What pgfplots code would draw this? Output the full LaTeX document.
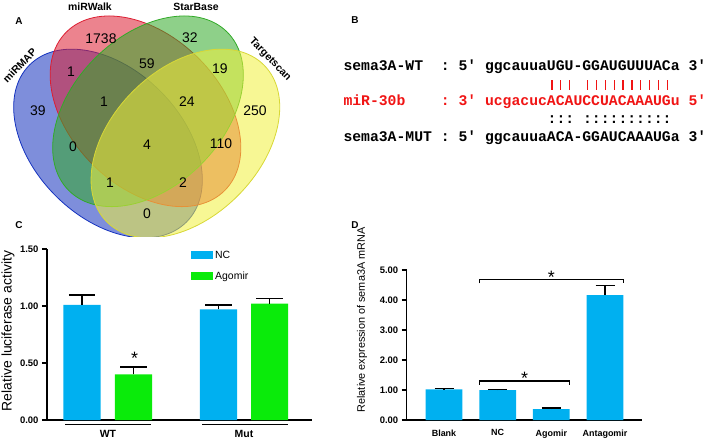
\documentclass[border=0pt]{standalone}
\usepackage{pgfplots}
\pgfplotsset{compat=1.18}
\usepackage{fontspec}
\setmainfont{Liberation Sans}
\newfontfamily\mono{Liberation Mono}[BoldFont={Liberation Mono Bold}]
\newcommand{\fs}[1]{\fontsize{#1}{#1}\selectfont}
\definecolor{barblue}{RGB}{0,176,240}
\definecolor{bargreen}{RGB}{10,235,10}
\definecolor{vblue}{RGB}{20,50,190}
\definecolor{vred}{RGB}{220,30,50}
\definecolor{vgreen}{RGB}{50,170,40}
\definecolor{vyellow}{RGB}{240,240,60}
\definecolor{seqred}{RGB}{240,20,20}
\begin{document}
\begin{tikzpicture}
\useasboundingbox (0,0) rectangle (709bp,-438bp);

% ---------------- Panel A: Venn diagram ----------------
\begin{axis}[at={(0bp,0bp)}, anchor=north west, x=1bp, y=1bp,
  xmin=0, xmax=330, ymin=-237, ymax=0, hide axis, clip=true]
  \draw[vblue, line width=0.8bp, fill=vblue, fill opacity=0.55, rotate around={-45:(axis cs:108,-143.5)}]
     (axis cs:108,-143.5) ellipse [x radius=111, y radius=74];
  \draw[vred, line width=0.8bp, fill=vred, fill opacity=0.55, rotate around={-45:(axis cs:145.5,-111.3)}]
     (axis cs:145.5,-111.3) ellipse [x radius=112, y radius=75];
  \draw[vgreen, line width=0.8bp, fill=vgreen, fill opacity=0.55, rotate around={45:(axis cs:148,-111.3)}]
     (axis cs:148,-111.3) ellipse [x radius=112, y radius=75];
  \draw[vyellow!90!black, line width=0.8bp, fill=vyellow, fill opacity=0.55, rotate around={45:(axis cs:185.4,-143.5)}]
     (axis cs:185.4,-143.5) ellipse [x radius=111, y radius=74];
  \begin{scope}[every node/.style={font=\fs{14}}]
  \node at (axis cs:101,-39) {1738};
  \node at (axis cs:190,-38) {32};
  \node at (axis cs:71,-72) {1};
  \node at (axis cs:147,-64) {59};
  \node at (axis cs:220,-69) {19};
  \node at (axis cs:38,-111) {39};
  \node at (axis cs:104,-102) {1};
  \node at (axis cs:187,-102) {24};
  \node at (axis cs:255,-111) {250};
  \node at (axis cs:73,-147) {0};
  \node at (axis cs:147,-145) {4};
  \node at (axis cs:221,-144) {110};
  \node at (axis cs:110,-183) {1};
  \node at (axis cs:183,-183) {2};
  \node at (axis cs:147,-214) {0};
  \end{scope}
\end{axis}

% ---------------- Panel C ----------------
\begin{axis}[at={(47bp,-420bp)}, anchor=south west, x=1bp, y=114bp,
  xmin=47, xmax=312, ymin=0, ymax=1.5,
  axis x line*=bottom, axis y line*=left,
  axis line style={line width=1.5bp, black},
  xtick=\empty, ytick={0,0.5,1,1.5},
  yticklabel style={font=\fs{9.5}\bfseries, /pgf/number format/.cd, fixed, fixed zerofill, precision=2, assume math mode=true},
  ytick style={line width=1.2bp, black}, major tick length=5bp, tick align=outside,
  ybar, bar width=37bp, clip=false,
  legend style={at={(axis cs:188,1.52)}, anchor=north west, draw=none, fill=none,
     font=\fs{10.5}, row sep=8bp, /tikz/every even column/.append style={column sep=8bp}},
  legend cell align=left]
  \addplot[fill=barblue, draw=none, bar shift=0pt,
     legend image code/.code={\fill[barblue] (0bp,-4bp) rectangle (22bp,4bp);},
     error bars/.cd, y dir=plus, y explicit,
     error bar style={line width=1.5bp, black},
     error mark options={black, line width=1.5bp, mark size=13bp, rotate=90}]
     coordinates {(82,1.01) +- (0,0.085) (218.5,0.97) +- (0,0.04)};
  \addlegendentry{NC}
  \addplot[fill=bargreen, draw=none, bar shift=0pt,
     legend image code/.code={\fill[bargreen] (0bp,-4bp) rectangle (22bp,4bp);},
     error bars/.cd, y dir=plus, y explicit,
     error bar style={line width=1.5bp, black},
     error mark options={black, line width=1.5bp, mark size=13bp, rotate=90}]
     coordinates {(133.5,0.40) +- (0,0.065) (269.5,1.02) +- (0,0.045)};
  \addlegendentry{Agomir}
  \draw[line width=1.3bp] (axis cs:65,-0.038) -- (axis cs:151,-0.038);
  \draw[line width=1.3bp] (axis cs:202,-0.038) -- (axis cs:288,-0.038);
  \node[font=\fs{10.5}\bfseries] at (axis cs:108,-0.118) {WT};
  \node[font=\fs{10.5}\bfseries] at (axis cs:244,-0.118) {Mut};
  \node[font=\fs{18}, anchor=base, inner sep=0pt] at (axis cs:134.5,0.49) {*};
\end{axis}

% ---------------- Panel D ----------------
\begin{axis}[at={(406.7bp,-420bp)}, anchor=south west, x=53.67bp, y=30bp,
  xmin=-0.695, xmax=3.684, ymin=0, ymax=5,
  axis x line*=bottom, axis y line*=left,
  axis line style={line width=1.5bp, black},
  xtick={0,1,2,3}, xticklabels={Blank,NC,Agomir,Antagomir},
  xtick style={draw=none},
  xticklabel style={font=\fs{9}\bfseries, yshift=-1bp},
  ytick={0,1,2,3,4,5},
  yticklabel style={font=\fs{9.5}\bfseries, /pgf/number format/.cd, fixed, fixed zerofill, precision=2, assume math mode=true},
  ytick style={line width=1.2bp, black}, major tick length=5bp, tick align=outside,
  ybar, bar width=36.7bp, clip=false]
  \addplot[fill=barblue, draw=none, bar shift=0pt,
     error bars/.cd, y dir=plus, y explicit,
     error bar style={line width=1.5bp, black},
     error mark options={black, line width=1.5bp, mark size=9.5bp, rotate=90}]
     coordinates {(0,1.02) +- (0,0.03) (1,1.00) +- (0,0.025) (2,0.36) +- (0,0.04) (3,4.16) +- (0,0.32)};
  \draw[line width=1.2bp] (axis cs:0.658,4.55) |- (axis cs:3.342,4.69) -- (axis cs:3.342,4.55);
  \draw[line width=1.2bp] (axis cs:0.658,1.17) |- (axis cs:2.342,1.30) -- (axis cs:2.342,1.17);
  \node[font=\fs{18}, anchor=base, inner sep=0pt] at (axis cs:2.0,4.56) {*};
  \node[font=\fs{18}, anchor=base, inner sep=0pt] at (axis cs:1.5,1.17) {*};
\end{axis}

% ---------------- Overlay text (pixel coordinates) ----------------
\begin{scope}[x=1bp, y=-1bp]
  % Venn set labels
  \node[font=\fs{10.5}\bfseries] at (90,7) {miRWalk};
  \node[font=\fs{10.5}\bfseries] at (196,7) {StarBase};
  \node[font=\fs{10.5}\bfseries, rotate=46] at (19.5,65.5) {miRMAP};
  \node[font=\fs{10.5}\bfseries, rotate=-46] at (270,59.5) {Targetscan};
  % panel letters
  \node[font=\fs{10}\bfseries] at (19,21) {A};
  \node[font=\fs{10}\bfseries] at (355,20) {B};
  \node[font=\fs{10}\bfseries] at (19,225) {C};
  \node[font=\fs{10}\bfseries] at (355,225) {D};
  % axis titles
  \node[font=\fs{14}, rotate=90] at (8,331) {Relative luciferase activity};
  \node[font=\fs{10.9}, rotate=90] at (362,320) {Relative expression of sema3A mRNA};
  % Panel B alignment
  \node[anchor=base west, inner sep=0pt, font=\mono\bfseries\fs{14.8}] at (343.3,70.7)
     {sema3A-WT~~:~5′~ggcauuaUGU-GGAUGUUUACa~3′};
  \node[anchor=base west, inner sep=0pt, font=\mono\bfseries\fs{14.8}, text=seqred] at (343.3,105)
     {miR-30b~~~~:~3′~ucgacucACAUCCUACAAAUGu~5′};
  \node[anchor=base west, inner sep=0pt, font=\mono\bfseries\fs{14.8}] at (343.3,141.7)
     {sema3A-MUT~:~5′~ggcauuaACA-GGAUCAAAUGa~3′};
  \foreach \c in {23,24,25,27,28,29,30,31,32,33,34,35,36}
     \draw[seqred, line width=1.2bp] ({343.3+(\c+0.5)*8.88},80) -- ({343.3+(\c+0.5)*8.88},90);
  \node[anchor=base west, inner sep=0pt, font=\mono\bfseries\fs{14.8}] at ({343.3+23*8.88},123)
     {:::~::::::::::};
\end{scope}
\end{tikzpicture}
\end{document}
